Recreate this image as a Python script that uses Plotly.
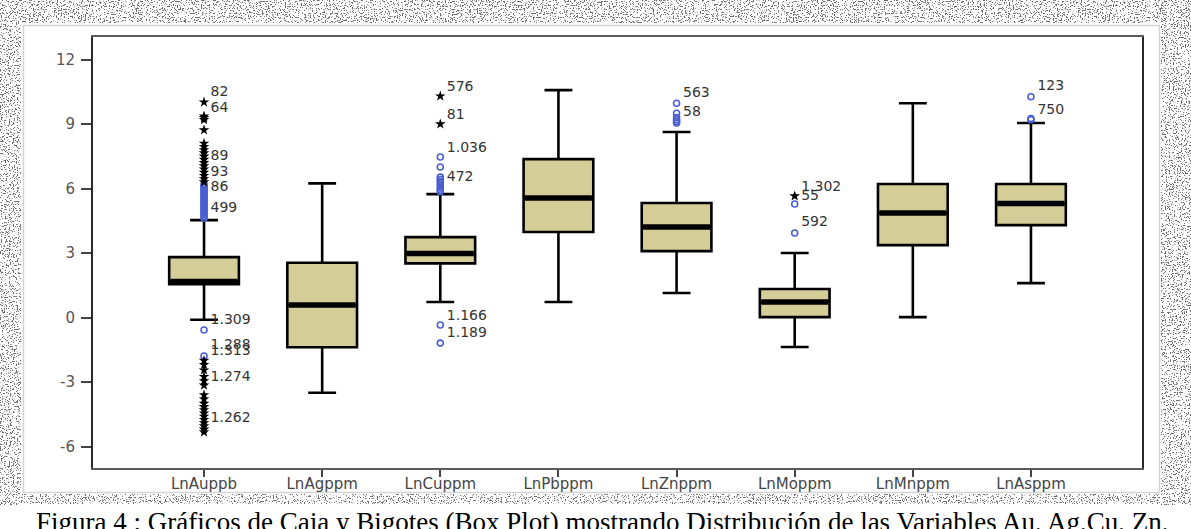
import base64
import plotly.graph_objects as go

# ---- variables (natural-log geochemistry) ----
categories = ["LnAuppb", "LnAgppm", "LnCuppm", "LnPbppm",
              "LnZnppm", "LnMoppm", "LnMnppm", "LnAsppm"]

lower_whisker = [-0.10, -3.50, 0.72, 0.72, 1.14, -1.37, 0.02, 1.60]
q1_values     = [1.55, -1.38, 2.52, 3.98, 3.09, 0.02, 3.37, 4.30]
median_values = [1.68, 0.58, 2.98, 5.56, 4.21, 0.72, 4.86, 5.30]
q3_values     = [2.81, 2.55, 3.74, 7.37, 5.33, 1.33, 6.21, 6.21]
upper_whisker = [4.53, 6.24, 5.74, 10.58, 8.63, 3.00, 9.97, 9.05]

# outliers (o = mild, * = extreme)
au_mild = [4.62, 4.70, 4.78, 4.85, 4.92, 5.00, 5.08, 5.15, 5.22, 5.30, 5.38,
           5.45, 5.52, 5.60, 5.68, 5.75, 5.82, 5.90, 5.97, 6.05, 6.12, 6.20,
           -0.58, -1.79]
au_extreme = [6.30, 6.45, 6.60, 6.75, 6.90, 7.05, 7.20, 7.35, 7.50, 7.65,
              7.80, 7.95, 8.10, 8.72, 9.20, 9.30, 9.37, 10.02,
              -2.00, -2.20, -2.45, -2.75, -2.95, -3.15, -3.60, -3.80, -4.00,
              -4.15, -4.30, -4.45, -4.60, -4.75, -4.90, -5.05, -5.20, -5.33]
cu_mild = [7.47, 7.00, 6.53, 6.42, 6.32, 6.22, 6.12, 6.02, 5.92, 5.85,
           -0.35, -1.19]
cu_extreme = [10.30, 9.00]
zn_mild = [9.97, 9.50, 9.30, 9.20, 9.12, 9.05]
mo_mild = [5.28, 3.93]
mo_extreme = [5.65]
as_mild = [10.27, 9.26, 9.20]

# case labels beside the outliers
au_tags = ["82", "64", "89", "93", "86", "499", "1.309", "1.288", "1.313", "1.274", "1.262"]
au_tag_y = [10.49, 9.74, 7.47, 6.77, 6.07, 5.09, -0.14, -1.30, -1.58, -2.77, -4.72]
cu_tags = ["576", "81", "1.036", "472", "1.166", "1.189"]
cu_tag_y = [10.72, 9.42, 7.88, 6.53, 0.07, -0.72]
zn_tags = ["563", "58"]
zn_tag_y = [10.43, 9.56]
mo_tags = ["1.302", "55", "592"]
mo_tag_y = [6.07, 5.65, 4.40]
as_tags = ["123", "750"]
as_tag_y = [10.73, 9.65]

y_ticks = [-6, -3, 0, 3, 6, 9, 12]

BOX_FILL = "#d5cd97"
OUTLIER_BLUE = "#4a5fd2"
FONT = "DejaVu Sans"

fig = go.Figure()

# boxes and whiskers
for i, name in enumerate(categories):
    fig.add_trace(go.Box(
        x=[i], q1=[q1_values[i]], median=[median_values[i]], q3=[q3_values[i]],
        lowerfence=[lower_whisker[i]], upperfence=[upper_whisker[i]],
        width=0.59, whiskerwidth=0.4, fillcolor=BOX_FILL,
        line=dict(color="black", width=2.6), boxpoints=False,
        name=name, showlegend=False, hoverinfo="skip",
    ))

# heavy median bars
for i in range(len(categories)):
    fig.add_trace(go.Scatter(
        x=[i - 0.283, i + 0.283], y=[median_values[i]] * 2, mode="lines",
        line=dict(color="black", width=5.5), showlegend=False, hoverinfo="skip",
    ))

def outliers(idx, values, extreme):
    if extreme:
        marker = dict(symbol="star", size=8, color="black", line=dict(width=0))
    else:
        marker = dict(symbol="circle-open", size=6, color=OUTLIER_BLUE,
                      line=dict(width=1.6, color=OUTLIER_BLUE))
    fig.add_trace(go.Scatter(
        x=[idx] * len(values), y=values, mode="markers", marker=marker,
        showlegend=False, hoverinfo="skip", cliponaxis=False,
    ))

outliers(0, au_mild, False)
outliers(0, au_extreme, True)
outliers(2, cu_mild, False)
outliers(2, cu_extreme, True)
outliers(4, zn_mild, False)
outliers(5, mo_mild, False)
outliers(5, mo_extreme, True)
outliers(7, as_mild, False)

def tags(idx, texts, ys):
    fig.add_trace(go.Scatter(
        x=[idx + 0.055] * len(texts), y=ys, text=texts, mode="text",
        textposition="middle right",
        textfont=dict(family=FONT, size=14, color="#333333"),
        showlegend=False, hoverinfo="skip", cliponaxis=False,
    ))

tags(0, au_tags, au_tag_y)
tags(2, cu_tags, cu_tag_y)
tags(4, zn_tags, zn_tag_y)
tags(5, mo_tags, mo_tag_y)
tags(7, as_tags, as_tag_y)

# scanned-page backdrop: speckled margins and a thin panel outline
W, H = 1191, 529
bands = [(0, 0, W, 23), (0, 0, 21, 505), (1161, 0, 30, 505), (0, 494, W, 10)]
band_svg = "".join(
    f'<rect x="{x}" y="{y}" width="{w}" height="{h}" fill="black" filter="url(#sp)"/>'
    for x, y, w, h in bands
)
svg = (
    f'<svg xmlns="http://www.w3.org/2000/svg" width="{W}" height="{H}" viewBox="0 0 {W} {H}">'
    '<defs><filter id="sp" x="0" y="0" width="1" height="1">'
    '<feTurbulence type="fractalNoise" baseFrequency="0.75" numOctaves="2" seed="11" result="t"/>'
    '<feColorMatrix in="t" type="matrix" values="0 0 0 0 0.15 0 0 0 0 0.15 0 0 0 0 0.15 -14 0 0 0 6.0" result="d"/>'
    '<feComposite in="d" in2="SourceGraphic" operator="in"/>'
    '</filter></defs>'
    f'<rect width="{W}" height="{H}" fill="white"/>'
    + band_svg +
    '<rect x="23.5" y="25.5" width="1136" height="467" fill="white" stroke="#d4d4d4" stroke-width="1.5"/>'
    '</svg>'
)
backdrop = "data:image/svg+xml;base64," + base64.b64encode(svg.encode()).decode()

L, R, T, B = 93, 49, 37, 61
pw, ph = W - L - R, H - T - B

fig.update_layout(
    width=W, height=H, autosize=False,
    margin=dict(l=L, r=R, t=T, b=B, pad=0),
    paper_bgcolor="white", plot_bgcolor="white",
    images=[dict(
        source=backdrop, xref="paper", yref="paper",
        x=-L / pw, y=1 + T / ph, sizex=W / pw, sizey=H / ph,
        xanchor="left", yanchor="top", sizing="stretch", layer="below",
    )],
    xaxis=dict(
        range=[-0.94, 7.94], tickvals=list(range(len(categories))), ticktext=categories,
        showgrid=False, zeroline=False, showline=True, linecolor="#5a5a5a", linewidth=2,
        mirror=True, ticks="outside", ticklen=7, tickwidth=2, tickcolor="#444",
        ticklabelstandoff=-6,
        tickfont=dict(family=FONT, size=15, color="#444444"),
    ),
    yaxis=dict(
        range=[-7.0, 13.05], tickvals=y_ticks, ticktext=[str(v) for v in y_ticks],
        showgrid=False, zeroline=False, showline=True, linecolor="#2a2a2a", linewidth=2,
        mirror=True, ticks="outside", ticklen=10, tickwidth=2, tickcolor="#444",
        ticklabelstandoff=3,
        tickfont=dict(family=FONT, size=15, color="#555555"),
    ),
    annotations=[dict(
        text="Figura 4 : Gráficos de Caja y Bigotes (Box Plot) mostrando Distribución de las Variables Au, Ag,Cu, Zn,",
        xref="paper", yref="paper", x=(34 - L) / pw, y=-(505 - (H - B)) / ph,
        xanchor="left", yanchor="top", showarrow=False,
        font=dict(family="Liberation Serif", size=27, color="black"),
    )],
)

fig.write_html("out.html")
